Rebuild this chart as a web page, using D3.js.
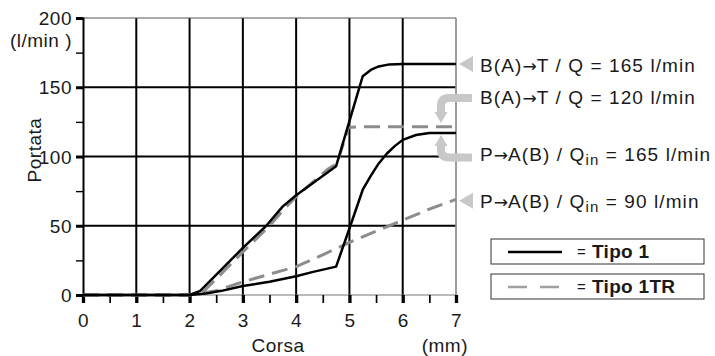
<!DOCTYPE html>
<html>
<head>
<meta charset="utf-8">
<script src="https://cdn.jsdelivr.net/npm/d3@7/dist/d3.min.js"></script>
<style>
  html, body { margin: 0; padding: 0; background: #fff; }
  svg { display: block; }
  text { font-family: "Liberation Sans", Arial, sans-serif; fill: #1a1a1a; }
</style>
</head>
<body>
<svg id="chart" width="715" height="356"></svg>
<script>
// ---- data ----
const xTicks = [0, 1, 2, 3, 4, 5, 6, 7];
const yTicks = [0, 50, 100, 150, 200];
// Tipo 1, B(A)->T, Q = 165 l/min
const tipo1Upper = [[0,0],[2,0],[2.2,3],[3,34],[3.44,50],[3.75,64],[4,72],[4.75,93],[5.25,158],[5.4,162.5],[5.55,165],[5.75,166.5],[6,166.8],[7,166.8]];
// Tipo 1, P->A(B), Qin = 165 l/min
const tipo1Lower = [[0,0],[2,0],[2.3,1],[2.6,3],[3,6.5],[3.5,9.5],[4,13.5],[4.3,16.5],[4.75,20.5],[5,48],[5.25,76],[5.4,86],[5.55,95],[5.7,102],[5.85,107.5],[6,112],[6.25,115.5],[6.5,117],[7,117]];
// Tipo 1TR, B(A)->T, Q = 120 l/min
const tipo1TRUpper = [[0,0],[2,0],[2.25,2],[3,31],[3.5,50],[3.75,61],[4,71],[4.6,91],[4.77,95],[4.98,121],[5.2,121.5],[7,121.5]];
// Tipo 1TR, P->A(B), Qin = 90 l/min
const tipo1TRLower = [[0,0],[2,0],[2.5,3],[3,9.5],[3.5,15],[4,20.5],[4.5,29],[5,38],[5.5,46],[6,54],[6.5,62],[7,69]];
const annotations = [
  {pre: "B(A)", post1: "T / Q", sub: "", post: " = 165 l/min"},
  {pre: "B(A)", post1: "T / Q", sub: "", post: " = 120 l/min"},
  {pre: "P", post1: "A(B) / Q", sub: "in", post: " = 165 l/min"},
  {pre: "P", post1: "A(B) / Q", sub: "in", post: " = 90 l/min"}
];
const legendItems = [
  {label: "Tipo 1", dashed: false},
  {label: "Tipo 1TR", dashed: true}
];

// ---- layout ----
const svg = d3.select("#chart");
const x = d3.scaleLinear().domain([0, 7]).range([83, 456]);
const y = d3.scaleLinear().domain([0, 200]).range([295, 18]);
const gray = "#8c8c8c";
const light = "#c8c8c8";

// grid
const g = svg.append("g");
g.selectAll("line.vg").data(xTicks.filter(d => d > 0 && d < 7)).join("line")
  .attr("x1", d => x(d)).attr("x2", d => x(d)).attr("y1", y(200)).attr("y2", y(0))
  .attr("stroke", "#000").attr("stroke-width", 2);
g.selectAll("line.hg").data(yTicks.filter(d => d > 0 && d < 200)).join("line")
  .attr("x1", x(0)).attr("x2", x(7)).attr("y1", d => y(d)).attr("y2", d => y(d))
  .attr("stroke", "#000").attr("stroke-width", 2);
g.append("line").attr("x1", x(0)).attr("x2", x(7)).attr("y1", y(200)).attr("y2", y(200))
  .attr("stroke", "#555").attr("stroke-width", 1);
g.append("line").attr("x1", x(0)).attr("x2", x(7)).attr("y1", y(0)).attr("y2", y(0))
  .attr("stroke", "#777").attr("stroke-width", 1);
g.append("line").attr("x1", x(7)).attr("x2", x(7)).attr("y1", y(200)).attr("y2", y(0))
  .attr("stroke", gray).attr("stroke-width", 1.7);

// y axis
const yAxis = svg.append("g").attr("transform", `translate(${x(0)},0)`)
  .call(d3.axisLeft(y).tickValues(d3.range(0, 201, 25)).tickSize(7).tickFormat(d => d % 50 === 0 ? d : ""));
yAxis.select(".domain").attr("stroke", "#000").attr("stroke-width", 2);
yAxis.selectAll(".tick line").attr("stroke", "#000").attr("stroke-width", d => d % 50 === 0 ? 3 : 1.4);
yAxis.selectAll(".tick text").attr("font-size", 19).attr("x", -11).attr("dy", "0.35em")
  .style("letter-spacing", "0.5px").attr("fill", "#1a1a1a")
  .style("font-family", "'Liberation Sans', Arial, sans-serif");

// x axis
const xAxis = svg.append("g").attr("transform", `translate(0,${y(0)})`)
  .call(d3.axisBottom(x).tickValues(d3.range(0, 7.01, 0.5)).tickSize(8).tickFormat(d => Number.isInteger(d) ? d : ""));
xAxis.select(".domain").remove();
xAxis.selectAll(".tick line").attr("stroke", "#000").attr("stroke-width", d => Number.isInteger(d) ? 3.3 : 1.7);
xAxis.selectAll(".tick text").attr("font-size", 19).attr("y", 25).attr("dy", "0.35em")
  .style("letter-spacing", "0.5px").attr("fill", "#1a1a1a")
  .style("font-family", "'Liberation Sans', Arial, sans-serif");

// axis titles
svg.append("text").attr("x", 72).attr("y", 47).attr("text-anchor", "end")
  .attr("font-size", 19).style("letter-spacing", "0.5px").text("(l/min )");
svg.append("text").attr("transform", "translate(41,150) rotate(-90)").attr("text-anchor", "middle")
  .attr("font-size", 19).style("letter-spacing", "0.5px").text("Portata");
svg.append("text").attr("x", 278).attr("y", 352).attr("text-anchor", "middle")
  .attr("font-size", 19).style("letter-spacing", "0.5px").text("Corsa");
svg.append("text").attr("x", 468).attr("y", 352).attr("text-anchor", "end")
  .attr("font-size", 19).style("letter-spacing", "0.5px").text("(mm)");

// curves
const line = d3.line().x(d => x(d[0])).y(d => y(d[1])).curve(d3.curveLinear);
const curves = svg.append("g").attr("fill", "none");
[tipo1TRLower, tipo1TRUpper].forEach(s => curves.append("path").attr("d", line(s))
  .attr("stroke", gray).attr("stroke-width", 3).attr("stroke-dasharray", "16,8"));
[tipo1Lower, tipo1Upper].forEach(s => curves.append("path").attr("d", line(s))
  .attr("stroke", "#000").attr("stroke-width", 2.5).attr("stroke-linejoin", "round"));

// annotation markers
const ann = svg.append("g");
const triY = [y(166.8), y(68)];
triY.forEach(ty => ann.append("path")
  .attr("d", `M459,${ty} L473,${ty - 8} L473,${ty + 8} Z`).attr("fill", light));
ann.append("path").attr("d", "M472,98 L449,98 Q441,98 441,106 L441,113")
  .attr("fill", "none").attr("stroke", light).attr("stroke-width", 8);
ann.append("path").attr("d", "M434.5,112 L447.5,112 L441,123 Z").attr("fill", light);
ann.append("path").attr("d", "M472,157.5 L449,157.5 Q441,157.5 441,149.5 L441,145")
  .attr("fill", "none").attr("stroke", light).attr("stroke-width", 8);
ann.append("path").attr("d", "M434.5,146 L447.5,146 L441,135 Z").attr("fill", light);

// annotation texts
const annBase = [72, 104, 160.5, 208];
annotations.forEach((a, i) => {
  const t = svg.append("text").attr("x", 480).attr("y", annBase[i])
    .attr("font-size", 19).style("letter-spacing", "1.1px");
  t.append("tspan").text(a.pre);
  t.append("tspan").style("font-family", "'DejaVu Sans', sans-serif").attr("font-size", 17)
    .style("letter-spacing", "0px").text("\u2192");
  t.append("tspan").text(a.post1);
  if (a.sub) {
    t.append("tspan").attr("font-size", 15).attr("dy", 4).text(a.sub);
    t.append("tspan").attr("dy", -4).text(a.post);
  } else {
    t.append("tspan").text(a.post);
  }
});

// legend
const leg = svg.append("g");
legendItems.forEach((it, i) => {
  const top = 239 + i * 35;
  leg.append("rect").attr("x", 491).attr("y", top).attr("width", 213).attr("height", 25)
    .attr("fill", "none").attr("stroke", "#333").attr("stroke-width", 1);
  leg.append("line").attr("x1", 508).attr("x2", 562).attr("y1", top + 13).attr("y2", top + 13)
    .attr("stroke", it.dashed ? "#a0a0a0" : "#000").attr("stroke-width", 2.5)
    .attr("stroke-dasharray", it.dashed ? "19,13" : null);
  leg.append("text").attr("x", 577).attr("y", top + 18).attr("font-size", 15).text("=");
  leg.append("text").attr("x", 592).attr("y", top + 19).attr("font-size", 19)
    .attr("font-weight", "bold").style("letter-spacing", "0.3px").text(it.label);
});
</script>
</body>
</html>
